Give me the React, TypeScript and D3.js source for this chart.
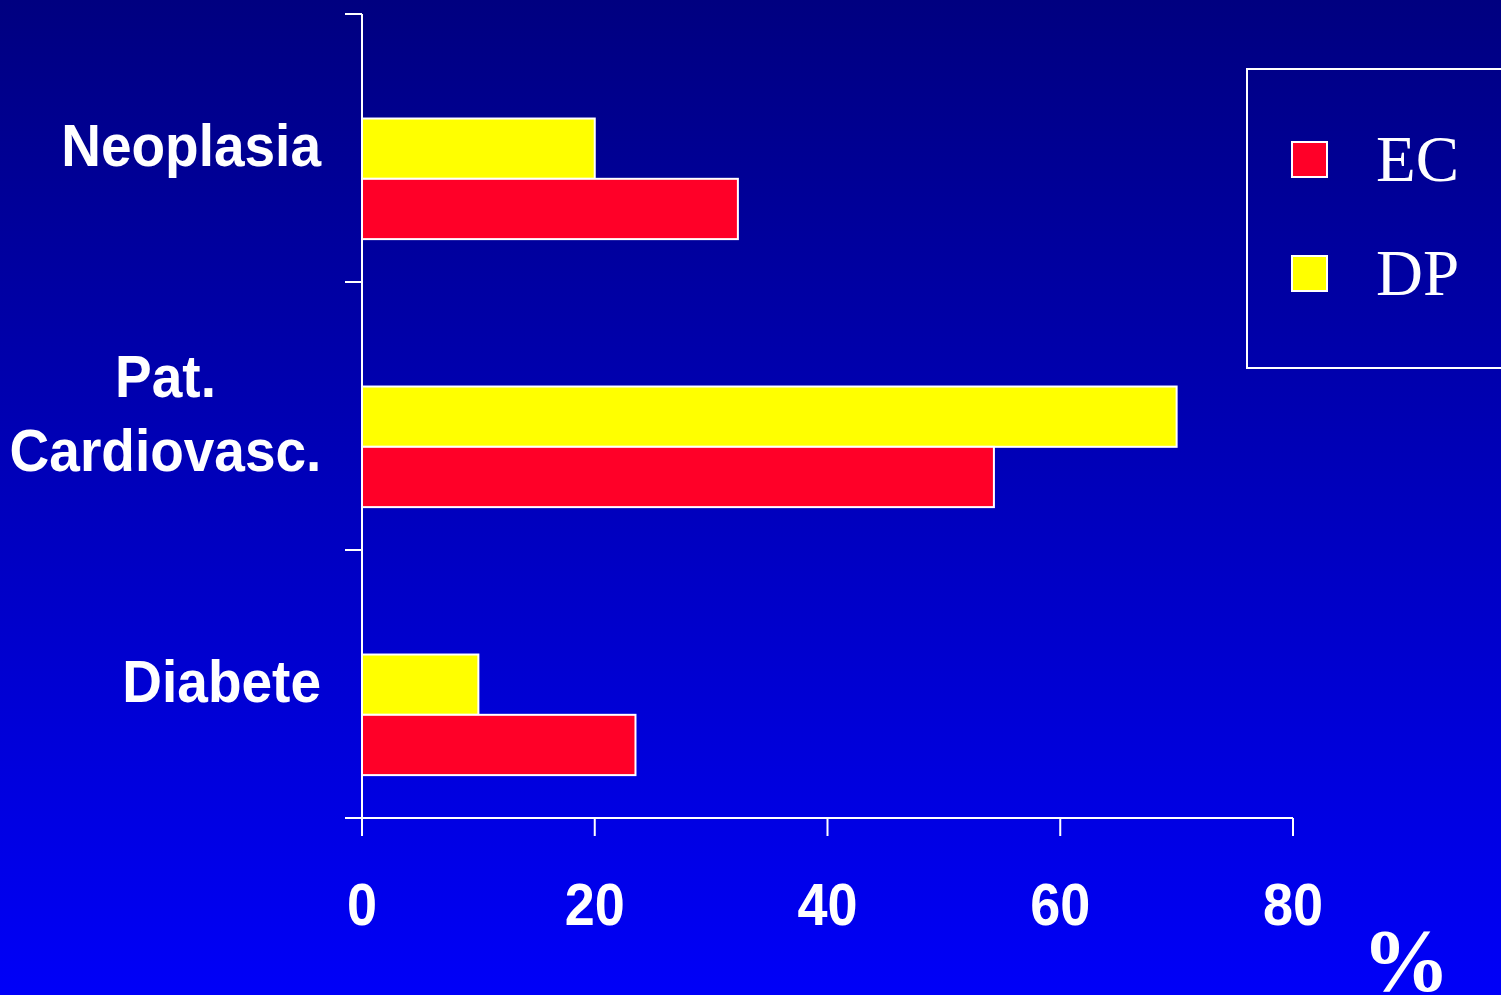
import React from "react";
import * as d3 from "d3";

const categories = ["Neoplasia", "Pat. Cardiovasc.", "Diabete"];
const categoryLines = [["Neoplasia"], ["Pat.", "Cardiovasc."], ["Diabete"]];
const seriesNames = ["DP", "EC"];
const dpValues = [20, 70, 10];
const ecValues = [32.3, 54.3, 23.5];
const xTicks = [0, 20, 40, 60, 80];
const legendItems = [
  { name: "EC", color: "#FF0028" },
  { name: "DP", color: "#FFFF00" },
];
const seriesColors: Record<string, string> = { DP: "#FFFF00", EC: "#FF0028" };

const W = 1501;
const H = 995;

export default function App() {
  const x = d3.scaleLinear().domain([0, 80]).range([362, 1293]);
  const y = d3.scaleBand<string>().domain(categories).range([14, 818]).padding(0);
  const bw = y.bandwidth();
  const inner = d3
    .scaleBand<string>()
    .domain(seriesNames)
    .range([bw * 0.39, bw * 0.84])
    .padding(0);

  const values: Record<string, number[]> = { DP: dpValues, EC: ecValues };

  const sansBold = "Arial, 'Liberation Sans', Helvetica, sans-serif";
  const serif = "'Times New Roman', 'Liberation Serif', serif";

  const labelRight = 321;
  const cardioWidthCenter = 165.5;

  return (
    <svg
      width={W}
      height={H}
      style={{ position: "absolute", left: 0, top: 0, display: "block" }}
    >
      <defs>
        <linearGradient id="bg" x1="0" y1="0" x2="0" y2="1">
          <stop offset="0" stopColor="#000080" />
          <stop offset="1" stopColor="#0000F8" />
        </linearGradient>
      </defs>
      <rect x={0} y={0} width={W} height={H} fill="url(#bg)" />

      {/* bars */}
      {categories.map((c, i) =>
        seriesNames.map((s) => {
          const by = (y(c) as number) + (inner(s) as number);
          return (
            <rect
              key={c + s}
              x={x(0)}
              y={by}
              width={x(values[s][i]) - x(0)}
              height={inner.bandwidth()}
              fill={seriesColors[s]}
              stroke="#FFFFFF"
              strokeWidth={2}
            />
          );
        })
      )}

      {/* y axis */}
      <line x1={x(0)} x2={x(0)} y1={14} y2={836} stroke="#FFFFFF" strokeWidth={2} />
      {[...categories.map((c) => y(c) as number), 818].map((t, i) => (
        <line key={"yt" + i} x1={345} x2={x(0)} y1={t} y2={t} stroke="#FFFFFF" strokeWidth={2} />
      ))}

      {/* x axis */}
      <line x1={345} x2={x(80)} y1={818} y2={818} stroke="#FFFFFF" strokeWidth={2} />
      {xTicks.map((t) => (
        <g key={"xt" + t}>
          <line x1={x(t)} x2={x(t)} y1={818} y2={836} stroke="#FFFFFF" strokeWidth={2} />
          <text
            x={x(t)}
            y={925}
            transform={`translate(0 ${925}) scale(1 1.1) translate(0 ${-925})`}
            textAnchor="middle"
            fill="#FFFFFF"
            fontFamily={sansBold}
            fontWeight="bold"
            fontSize={54}
          >
            {t}
          </text>
        </g>
      ))}

      {/* category labels */}
      {categories.map((c, i) => {
        const lines = categoryLines[i];
        const center = (y(c) as number) + bw / 2;
        const lh = 74;
        const multi = lines.length > 1;
        return lines.map((ln, j) => {
          const base = center + 18 + (j - (lines.length - 1) / 2) * lh;
          return (
            <text
              key={c + j}
              x={multi ? cardioWidthCenter : labelRight}
              y={base}
              transform={`translate(0 ${base}) scale(1 1.08) translate(0 ${-base})`}
              textAnchor={multi ? "middle" : "end"}
              fill="#FFFFFF"
              fontFamily={sansBold}
              fontWeight="bold"
              fontSize={55}
            >
              {ln}
            </text>
          );
        });
      })}

      {/* legend */}
      <rect x={1247} y={69} width={270} height={299} fill="none" stroke="#FFFFFF" strokeWidth={2} />
      {legendItems.map((it, i) => (
        <g key={it.name}>
          <rect
            x={1292}
            y={142 + i * 114}
            width={35}
            height={35}
            fill={it.color}
            stroke="#FFFFFF"
            strokeWidth={2}
          />
          <text
            x={1376}
            y={181 + i * 114}
            fill="#FFFFFF"
            fontFamily={serif}
            fontSize={65}
          >
            {it.name}
          </text>
        </g>
      ))}

      {/* unit */}
      <text x={1362} y={990} fill="#FFFFFF" fontFamily={serif} fontWeight="bold" fontSize={88}>
        %
      </text>
    </svg>
  );
}
